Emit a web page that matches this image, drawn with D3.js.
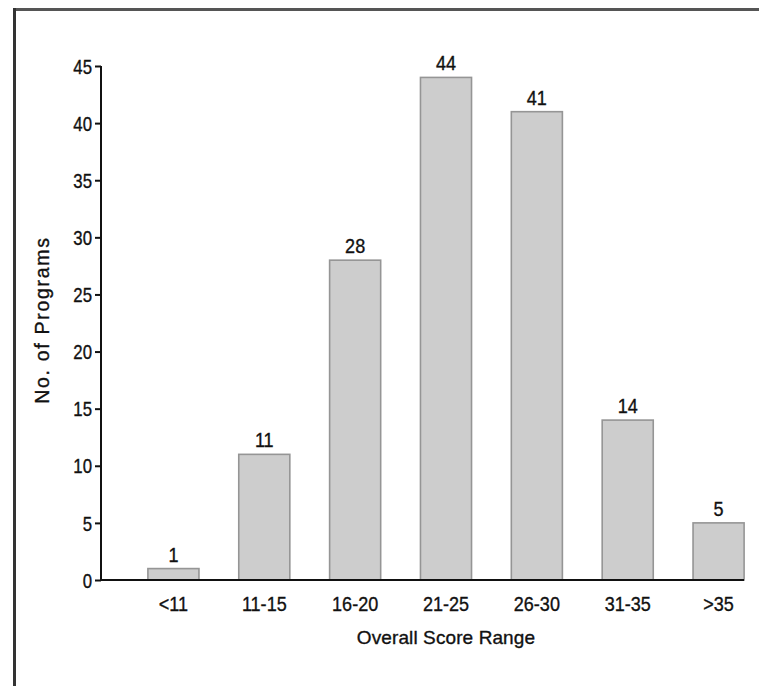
<!DOCTYPE html>
<html>
<head>
<meta charset="utf-8">
<script src="https://cdn.jsdelivr.net/npm/d3@7"></script>
<style>
  html, body { margin: 0; padding: 0; background: #fff; }
  svg { display: block; }
  text { font-family: "Liberation Sans", Arial, sans-serif; fill: #111; stroke: #111; stroke-width: 0.35; }
</style>
</head>
<body>
<svg id="chart" width="759" height="686"></svg>
<script>
const categories = ["<11", "11-15", "16-20", "21-25", "26-30", "31-35", ">35"];
const values = [1, 11, 28, 44, 41, 14, 5];
const yTicks = [0, 5, 10, 15, 20, 25, 30, 35, 40, 45];
const xTitle = "Overall Score Range";
const yTitle = "No. of Programs";

const svg = d3.select("#chart");

// frame (top and left borders)
svg.append("line").attr("x1", 13).attr("x2", 759).attr("y1", 9.5).attr("y2", 9.5)
  .attr("stroke", "#555").attr("stroke-width", 3);
svg.append("line").attr("x1", 14.5).attr("x2", 14.5).attr("y1", 8).attr("y2", 686)
  .attr("stroke", "#333").attr("stroke-width", 3);

const y = d3.scaleLinear().domain([0, 45]).range([580, 66]);
const x = d3.scaleBand().domain(categories).range([128, 764])
  .paddingInner(0.438).paddingOuter(0.219);

// y axis
const yAxis = svg.append("g").attr("transform", "translate(101,0)")
  .call(d3.axisLeft(y).tickValues(yTicks).tickSize(6).tickPadding(0).tickFormat(d3.format("d")));
yAxis.select(".domain").attr("stroke", "#111").attr("stroke-width", 2).attr("d", "M0,66V581");
yAxis.selectAll(".tick line").attr("stroke", "#111").attr("stroke-width", 2);
yAxis.selectAll(".tick text")
  .attr("font-size", 20).attr("font-family", null).attr("fill", "#111")
  .attr("x", -9 / 0.84).attr("dy", "0.36em")
  .attr("transform", "scale(0.84,1)");

// bars
svg.append("g").selectAll("rect").data(values).join("rect")
  .attr("x", (d, i) => x(categories[i]))
  .attr("y", d => y(d))
  .attr("width", x.bandwidth())
  .attr("height", d => y(0) - y(d))
  .attr("fill", "#cdcdcd")
  .attr("stroke", "#959595")
  .attr("stroke-width", 1.6);

// x axis
const xAxis = svg.append("g").attr("transform", "translate(0,580)")
  .call(d3.axisBottom(x).tickSize(0).tickPadding(0));
xAxis.select(".domain").attr("stroke", "#111").attr("stroke-width", 2).attr("d", "M100,0H744");
xAxis.selectAll(".tick text")
  .attr("font-size", 20.5).attr("font-family", null).attr("fill", "#111")
  .attr("y", 31.5).attr("dy", null)
  .attr("transform", "scale(0.88,1)");

// value labels
svg.append("g").selectAll("text").data(values).join("text")
  .attr("transform", (d, i) => `translate(${x(categories[i]) + x.bandwidth() / 2},${y(d) - 7}) scale(0.88,1)`)
  .attr("text-anchor", "middle")
  .attr("font-size", 20.5)
  .text(d => d);

// titles
svg.append("text").attr("x", 446).attr("y", 644).attr("text-anchor", "middle")
  .attr("font-size", 19).attr("letter-spacing", 0.1).text(xTitle);
svg.append("text").attr("transform", "translate(49,320) rotate(-90)")
  .attr("text-anchor", "middle").attr("font-size", 19.5).attr("letter-spacing", 1.7).text(yTitle);
</script>
</body>
</html>
